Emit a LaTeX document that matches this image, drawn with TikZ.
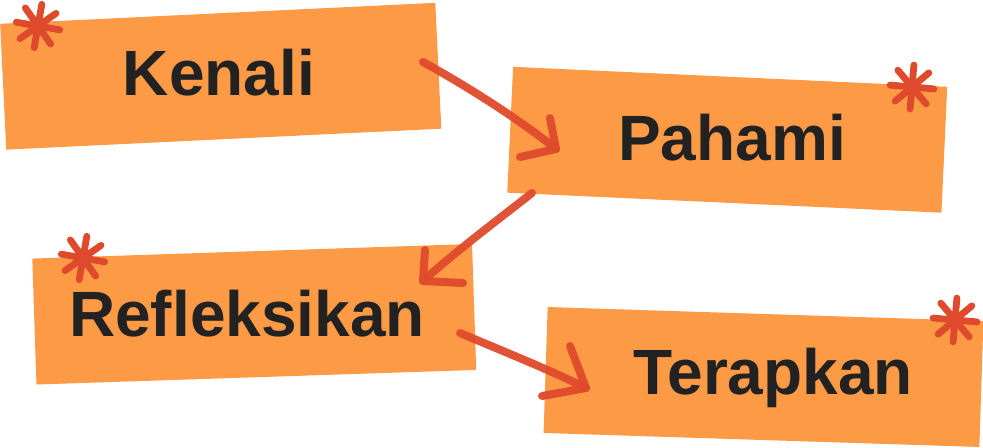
\documentclass[tikz,border=0pt]{standalone}
\usepackage{fontspec}
\setmainfont{Liberation Sans}
\definecolor{boxorange}{HTML}{FD9A45}
\definecolor{crayon}{HTML}{DF4A2C}
\definecolor{ink}{HTML}{222222}
\tikzset{
  card/.style={fill=boxorange, draw=none, inner sep=0pt, minimum height=63pt},
  label/.style={text=ink, font=\fontsize{32}{37}\selectfont\bfseries, inner sep=0pt, anchor=center},
  stroke/.style={draw=crayon, line width=4pt, line cap=round, line join=round, opacity=0.95},
  star/.style={draw=crayon, line width=3.4pt, line cap=round},
}
\newcommand{\myast}[2]{%
  \foreach \a in {0,45,90,135}{
    \draw[star] ($(#1)+(\a+#2:11pt)$) -- ($(#1)+(\a+180+#2:11pt)$);
  }}
\usetikzlibrary{calc}
\begin{document}
\begin{tikzpicture}[x=0.5pt,y=-0.5pt]
\useasboundingbox (0,0) rectangle (983,448);
% cards
\node[card, minimum width=217.8pt, rotate=2.76] (k) at (220.75,76.25) {};
\node[card, minimum width=217.3pt, rotate=-2.64] (p) at (727.25,139.75) {};
\node[card, minimum width=220pt, rotate=1.9] (r) at (254.25,314.25) {};
\node[card, minimum width=218pt, rotate=-1.84] (t) at (763.5,377) {};
% texts
\node[label] (kt) at (219,73) {Kenali};
\node[label] (pt) at (732,138) {Pahami};
\node[label] (rt) at (247,314) {Refleksikan};
\node[label] (tt) at (773,378) {Terapkan};
% asterisks
\coordinate (ka) at (38,26);
\coordinate (pa) at (912,87);
\coordinate (ra) at (83,258);
\coordinate (ta) at (955,320);
\myast{ka}{80}
\myast{pa}{85}
\myast{ra}{80}
\myast{ta}{85}
% arrow 1 : Kenali -> Pahami
\coordinate (a1s) at (423,62);
\coordinate (a1t) at (556,149);
\coordinate (a1u) at (550,118);
\coordinate (a1l) at (520,157);
\draw[stroke] (a1s) .. controls (470,88) and (520,120) .. (a1t);
\draw[stroke] (a1u) -- (a1t) -- (a1l);
% arrow 2 : Pahami -> Refleksikan
\coordinate (a2s) at (532,193);
\coordinate (a2t) at (423,281);
\coordinate (a2u) at (425,250);
\coordinate (a2r) at (463,283);
\draw[stroke] (a2s) .. controls (495,222) and (455,252) .. (a2t);
\draw[stroke] (a2u) -- (a2t) -- (a2r);
% arrow 3 : Refleksikan -> Terapkan
\coordinate (a3s) at (460,333);
\coordinate (a3t) at (586,388);
\coordinate (a3u) at (570,346);
\coordinate (a3l) at (542,396);
\draw[stroke] (a3s) .. controls (505,352) and (550,370) .. (a3t);
\draw[stroke] (a3u) -- (a3t) -- (a3l);
\end{tikzpicture}
\end{document}
